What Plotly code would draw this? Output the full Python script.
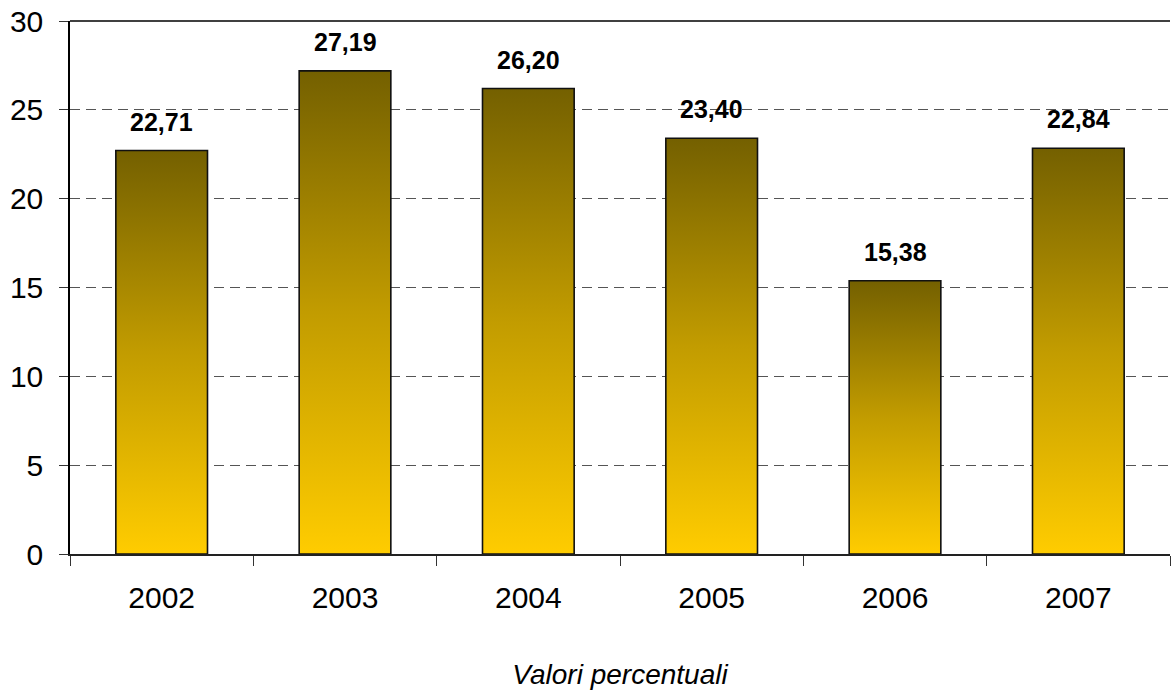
import plotly.graph_objects as go

years = ["2002", "2003", "2004", "2005", "2006", "2007"]
values = [22.71, 27.19, 26.20, 23.40, 15.38, 22.84]
value_labels = ["22,71", "27,19", "26,20", "23,40", "15,38", "22,84"]
y_ticks = [0, 5, 10, 15, 20, 25, 30]

FONT = "Liberation Sans, Arial, sans-serif"
HALF_W = 0.25

fig = go.Figure()
for i, v in enumerate(values):
    fig.add_trace(go.Scatter(
        x=[i - HALF_W, i - HALF_W, i + HALF_W, i + HALF_W, i - HALF_W],
        y=[0, v, v, 0, 0],
        mode="lines",
        fill="toself",
        fillgradient=dict(type="vertical",
                          colorscale=[[0, "#FFCC00"], [0.5, "#C29C00"], [1, "#746000"]]),
        line=dict(color="#111111", width=1.6),
        hoverinfo="skip",
        showlegend=False,
    ))
    fig.add_annotation(x=i, y=v, text="<b>%s</b>" % value_labels[i], showarrow=False,
                       yanchor="bottom", yshift=13,
                       font=dict(family=FONT, size=25, color="black"))

# solid top border of the plot area (at the 30 level)
fig.add_shape(type="line", xref="paper", yref="paper", x0=0, x1=1, y0=1, y1=1,
              line=dict(color="black", width=1.5), layer="above")

fig.update_layout(
    width=1171, height=693,
    margin=dict(l=70, r=1, t=21, b=139),
    plot_bgcolor="white", paper_bgcolor="white",
    font=dict(family=FONT, size=30, color="black"),
    xaxis=dict(
        automargin=False,
        range=[-0.5, len(years) - 0.5],
        tickvals=list(range(len(years))), ticktext=years,
        ticks="", ticklabelstandoff=16,
        showgrid=False, zeroline=False,
        showline=True, linecolor="#222222", linewidth=1.5,
        minor=dict(ticks="outside", tickvals=[i - 0.5 for i in range(len(years) + 1)],
                   ticklen=10, tickcolor="#333333", tickwidth=1, showgrid=False),
        title=dict(text="<i>Valori percentuali</i>", standoff=52,
                   font=dict(family=FONT, size=28)),
        tickfont=dict(family=FONT, size=30),
    ),
    yaxis=dict(
        automargin=False,
        range=[0, 30], tickvals=y_ticks,
        ticks="outside", ticklen=9, tickcolor="#333333",
        ticklabelstandoff=10, ticklabeloverflow="allow",
        showgrid=True, gridcolor="#555555", griddash="10px,6px", gridwidth=1,
        zeroline=False,
        showline=True, linecolor="black", linewidth=1.5,
        tickfont=dict(family=FONT, size=30),
    ),
)

fig.write_html(
    "out.html",
    config={"displayModeBar": False},
    post_script="document.body.style.margin='0';document.body.style.overflow='hidden';",
)
